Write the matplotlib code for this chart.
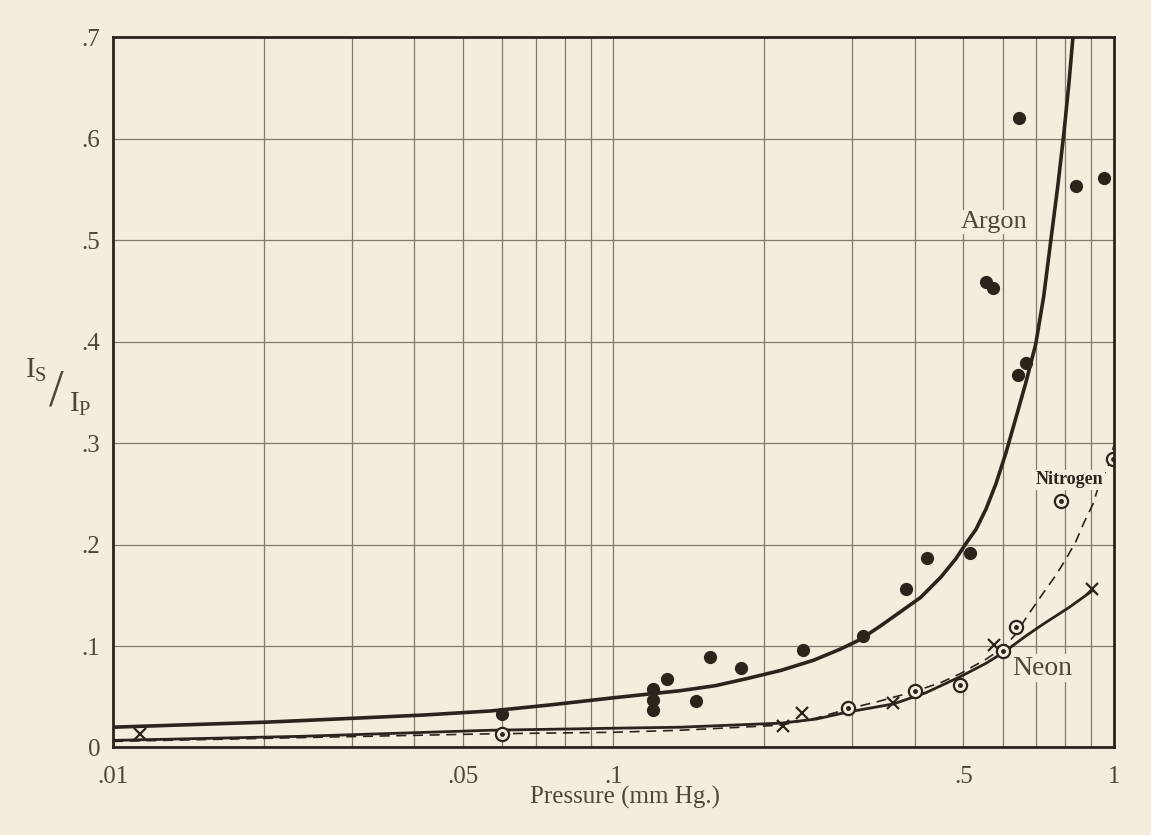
import matplotlib.pyplot as plt
from matplotlib.ticker import FixedLocator, FixedFormatter, LogLocator, NullFormatter

bg = "#f2eddd"
ink = "#2a251b"
grid_c = "#7f7a6c"
label_c = "#4d473a"
serif = ["Liberation Serif", "DejaVu Serif"]

# measured points
argon_p = [0.06, 0.12, 0.12, 0.12, 0.128, 0.146, 0.156, 0.180, 0.239, 0.315,
           0.385, 0.423, 0.515, 0.555, 0.573, 0.643, 0.667, 0.646, 0.839, 0.955]
argon_r = [0.033, 0.058, 0.047, 0.037, 0.068, 0.046, 0.089, 0.078, 0.096, 0.110,
           0.156, 0.187, 0.192, 0.459, 0.453, 0.367, 0.379, 0.621, 0.554, 0.561]

neon_p = [0.0113, 0.218, 0.238, 0.362, 0.577, 0.906]
neon_r = [0.013, 0.021, 0.034, 0.044, 0.101, 0.156]

nitro_p = [0.06, 0.294, 0.400, 0.493, 0.601, 0.638, 0.783, 0.997]
nitro_r = [0.013, 0.039, 0.056, 0.062, 0.095, 0.119, 0.243, 0.284]

# hand drawn curves
argon_curve_p = [0.01, 0.0203, 0.0308, 0.0417, 0.0568, 0.0748, 0.100, 0.136, 0.160,
                 0.185, 0.216, 0.251, 0.284, 0.310, 0.342, 0.375, 0.411, 0.451,
                 0.483, 0.506, 0.530, 0.555, 0.581, 0.608, 0.637, 0.667, 0.698,
                 0.724, 0.748, 0.773, 0.794, 0.813, 0.828]
argon_curve_r = [0.020, 0.025, 0.029, 0.032, 0.036, 0.042, 0.049, 0.056, 0.061,
                 0.068, 0.076, 0.086, 0.097, 0.106, 0.120, 0.134, 0.148, 0.168,
                 0.186, 0.201, 0.215, 0.235, 0.260, 0.290, 0.325, 0.360, 0.398,
                 0.445, 0.500, 0.555, 0.605, 0.655, 0.700]

neon_curve_p = [0.01, 0.0237, 0.0568, 0.100, 0.136, 0.216, 0.254, 0.294, 0.327,
                0.363, 0.421, 0.494, 0.555, 0.603, 0.667, 0.724, 0.813, 0.908]
neon_curve_r = [0.007, 0.011, 0.017, 0.019, 0.020, 0.024, 0.028, 0.035, 0.039,
                0.043, 0.054, 0.070, 0.083, 0.094, 0.110, 0.122, 0.138, 0.155]

nitro_curve_p = [0.01, 0.0568, 0.100, 0.136, 0.216, 0.254, 0.294, 0.342, 0.398,
                 0.451, 0.494, 0.555, 0.603, 0.637, 0.670, 0.724, 0.766, 0.800,
                 0.839, 0.870, 0.908, 0.935, 0.977, 1.0]
nitro_curve_r = [0.006, 0.0135, 0.015, 0.017, 0.022, 0.029, 0.038, 0.046, 0.055,
                 0.064, 0.073, 0.087, 0.099, 0.112, 0.129, 0.153, 0.170, 0.185,
                 0.203, 0.221, 0.240, 0.260, 0.279, 0.298]

x_ticks = [0.01, 0.05, 0.1, 0.5, 1]
x_labels = [".01", ".05", ".1", ".5", "1"]
y_ticks = [0, 0.1, 0.2, 0.3, 0.4, 0.5, 0.6, 0.7]
y_labels = ["0", ".1", ".2", ".3", ".4", ".5", ".6", ".7"]

plt.rcParams["mathtext.fontset"] = "custom"
plt.rcParams["mathtext.rm"] = "Liberation Serif"

fig = plt.figure(figsize=(11.51, 8.35), dpi=100, facecolor=bg)
ax = fig.add_axes([0.0982, 0.1048, 0.8696, 0.8503], facecolor=bg)
ax.set_xscale("log")
ax.set_xlim(0.01, 1)
ax.set_ylim(0, 0.7)

ax.xaxis.set_major_locator(FixedLocator(x_ticks))
ax.xaxis.set_major_formatter(FixedFormatter(x_labels))
ax.xaxis.set_minor_locator(LogLocator(base=10, subs=range(2, 10)))
ax.xaxis.set_minor_formatter(NullFormatter())
ax.yaxis.set_major_locator(FixedLocator(y_ticks))
ax.yaxis.set_major_formatter(FixedFormatter(y_labels))

ax.grid(which="both", axis="x", color=grid_c, lw=0.9)
ax.grid(which="major", axis="y", color=grid_c, lw=0.9)
ax.set_axisbelow(True)
ax.tick_params(which="both", length=0)
ax.tick_params(axis="x", pad=13, labelsize=18, labelcolor=label_c)
ax.tick_params(axis="y", pad=9, labelsize=18, labelcolor=label_c)
for lab in ax.get_xticklabels() + ax.get_yticklabels():
    lab.set_family(serif)
for s in ax.spines.values():
    s.set_color(ink)
    s.set_linewidth(2)

ax.plot(argon_curve_p, argon_curve_r, color=ink, lw=2.6, solid_joinstyle="round")
ax.plot(neon_curve_p, neon_curve_r, color=ink, lw=2.0, solid_joinstyle="round")
ax.plot(nitro_curve_p, nitro_curve_r, color=ink, lw=1.2, dashes=(6, 4))

ax.plot(argon_p, argon_r, "o", color=ink, ms=8.5, ls="none")
ax.plot(neon_p, neon_r, "x", color=ink, ms=9, mew=1.6, ls="none")
ax.plot(nitro_p, nitro_r, "o", mfc=bg, mec=ink, ms=9.5, mew=1.6, ls="none")
ax.plot(nitro_p, nitro_r, "o", color=ink, ms=2.5, ls="none")

box = dict(facecolor=bg, edgecolor="none", pad=1)
ax.text(0.575, 0.518, "Argon", family=serif, fontsize=19, color=label_c,
        ha="center", va="center", bbox=box)
ax.text(0.815, 0.264, "Nitrogen", family=serif, fontsize=13, fontweight="bold",
        color=ink, ha="center", va="center", bbox=box)
ax.text(0.72, 0.078, "Neon", family=serif, fontsize=20, color=label_c,
        ha="center", va="center", bbox=box)

fig.text(0.543, 0.045, "Pressure (mm Hg.)", family=serif, fontsize=18,
         color=label_c, ha="center", va="center")
# I_S / I_P written as a slanted fraction
fig.text(0.031, 1 - 370 / 835, r"I$_\mathregular{S}$", family=serif, fontsize=21,
         color=label_c, ha="center", va="center")
fig.text(0.049, 1 - 392 / 835, "/", family=serif, fontsize=38,
         color=label_c, ha="center", va="center")
fig.text(0.070, 1 - 404 / 835, r"I$_\mathregular{P}$", family=serif, fontsize=21,
         color=label_c, ha="center", va="center")

fig.savefig("out.png", dpi=100, facecolor=bg)
